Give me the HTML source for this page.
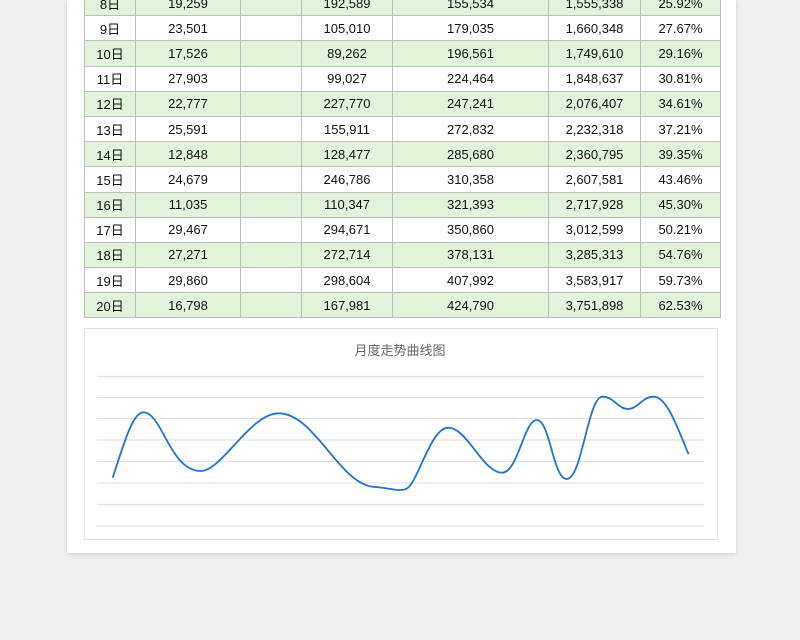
<!DOCTYPE html>
<html><head><meta charset="utf-8"><style>
body{margin:0;width:800px;height:640px;background:#efefef;position:relative;overflow:hidden;font-family:"Liberation Sans","Noto Sans CJK SC",sans-serif}
.sheet{position:absolute;left:67px;top:0;width:669px;height:553px;background:#fff;box-shadow:0 1px 4px rgba(0,0,0,.15)}
table{position:absolute;left:84px;top:-10px;border-collapse:collapse;font-size:13px;color:#111}
td{border:1px solid #bdbdbd;height:24.2px;padding:0;text-align:center}
tr:nth-child(odd) td{background:#e2f3dc}
tr:nth-child(even) td{background:#fff}
.chart{position:absolute;left:84px;top:328px;width:632px;height:210px;border:1px solid #e3e3e3;background:#fff}
</style></head><body>
<div class="sheet"></div>
<table>
<colgroup><col style="width:51px"><col style="width:105px"><col style="width:61px"><col style="width:91px"><col style="width:156px"><col style="width:92px"><col style="width:80px"></colgroup>
<tr><td>8日</td><td>19,259</td><td></td><td>192,589</td><td>155,534</td><td>1,555,338</td><td>25.92%</td></tr>
<tr><td>9日</td><td>23,501</td><td></td><td>105,010</td><td>179,035</td><td>1,660,348</td><td>27.67%</td></tr>
<tr><td>10日</td><td>17,526</td><td></td><td>89,262</td><td>196,561</td><td>1,749,610</td><td>29.16%</td></tr>
<tr><td>11日</td><td>27,903</td><td></td><td>99,027</td><td>224,464</td><td>1,848,637</td><td>30.81%</td></tr>
<tr><td>12日</td><td>22,777</td><td></td><td>227,770</td><td>247,241</td><td>2,076,407</td><td>34.61%</td></tr>
<tr><td>13日</td><td>25,591</td><td></td><td>155,911</td><td>272,832</td><td>2,232,318</td><td>37.21%</td></tr>
<tr><td>14日</td><td>12,848</td><td></td><td>128,477</td><td>285,680</td><td>2,360,795</td><td>39.35%</td></tr>
<tr><td>15日</td><td>24,679</td><td></td><td>246,786</td><td>310,358</td><td>2,607,581</td><td>43.46%</td></tr>
<tr><td>16日</td><td>11,035</td><td></td><td>110,347</td><td>321,393</td><td>2,717,928</td><td>45.30%</td></tr>
<tr><td>17日</td><td>29,467</td><td></td><td>294,671</td><td>350,860</td><td>3,012,599</td><td>50.21%</td></tr>
<tr><td>18日</td><td>27,271</td><td></td><td>272,714</td><td>378,131</td><td>3,285,313</td><td>54.76%</td></tr>
<tr><td>19日</td><td>29,860</td><td></td><td>298,604</td><td>407,992</td><td>3,583,917</td><td>59.73%</td></tr>
<tr><td>20日</td><td>16,798</td><td></td><td>167,981</td><td>424,790</td><td>3,751,898</td><td>62.53%</td></tr>
</table>
<div class="chart"></div>
<svg style="position:absolute;left:0;top:0" width="800" height="640">
<text x="400" y="355" text-anchor="middle" font-size="13" fill="#666" font-family="Liberation Sans, Noto Sans CJK SC, sans-serif">月度走势曲线图</text>
<g stroke="#e2e2e2" stroke-width="1.3">
<line x1="97" x2="704" y1="376.5" y2="376.5"/><line x1="97" x2="704" y1="397.5" y2="397.5"/><line x1="97" x2="704" y1="418.5" y2="418.5"/><line x1="97" x2="704" y1="440" y2="440"/><line x1="97" x2="704" y1="461.5" y2="461.5"/><line x1="97" x2="704" y1="483" y2="483"/><line x1="97" x2="704" y1="504.5" y2="504.5"/><line x1="97" x2="704" y1="526" y2="526"/>
</g>
<path fill="none" stroke="#1f74d1" stroke-width="1.8" d="M112.7,477.7 C125,440 133,412.3 143.5,412.3 C162,412.3 170,471 200.6,471 C222,471 250,413.3 278.8,413.3 C315,413.3 340,486 375,487 C390,488 400,492 406,489 C418,484 430,427.7 448.4,427.7 C467,427.7 483,472.7 502,472.7 C518,472.7 524,420 536.8,420 C550,420 553,479 566.7,479 C582,479 588,396.7 602.4,396.7 C614,396.7 618,409 627.9,409 C638,409 642,396.7 653.8,396.7 C668,396.7 680,435 688.6,454.3"/>
</svg>
</body></html>
